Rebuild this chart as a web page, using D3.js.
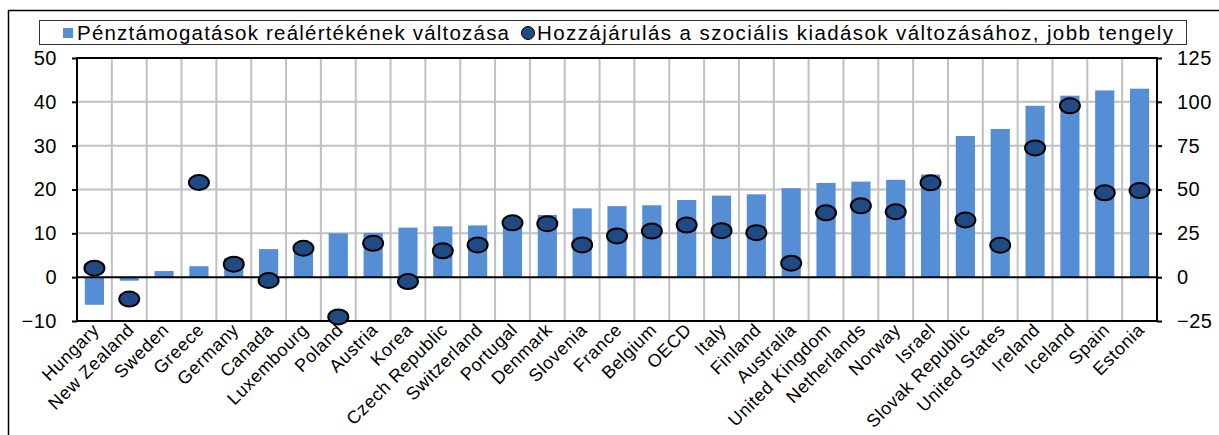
<!DOCTYPE html>
<html>
<head>
<meta charset="utf-8">
<script src="https://cdn.jsdelivr.net/npm/d3@7"></script>
<style>
  body { margin: 0; background: #fff; }
  svg { display: block; font-family: "Liberation Sans", Arial, sans-serif; }
</style>
</head>
<body>
<div id="chart"></div>
<script>
const categories = ["Hungary", "New Zealand", "Sweden", "Greece", "Germany", "Canada", "Luxembourg",
  "Poland", "Austria", "Korea", "Czech Republic", "Switzerland", "Portugal", "Denmark", "Slovenia",
  "France", "Belgium", "OECD", "Italy", "Finland", "Australia", "United Kingdom", "Netherlands",
  "Norway", "Israel", "Slovak Republic", "United States", "Ireland", "Iceland", "Spain", "Estonia"];

// left axis: change in real value of cash benefits
const bar_values = [-6.3, -0.8, 1.4, 2.5, 4.3, 6.4, 7.0, 10.0, 10.1, 11.3, 11.6, 11.8, 12.6, 14.2,
  15.7, 16.2, 16.4, 17.6, 18.6, 18.9, 20.3, 21.5, 21.8, 22.2, 23.4, 32.2, 33.8, 39.1, 41.4, 42.6, 43.0];

// right axis: contribution to change in social spending
const dot_values = [5.1, -12.5, null, 54.0, 7.4, -1.9, 16.5, -22.7, 19.3, -2.5, 15.0, 18.4, 31.0, 30.5,
  18.4, 23.5, 26.3, 29.7, 26.5, 25.4, 8.0, 36.7, 40.7, 37.3, 53.8, 32.6, 18.2, 73.7, 97.7, 48.1, 49.4];

const left_ticks = [-10, 0, 10, 20, 30, 40, 50];
const right_ticks = [-25, 0, 25, 50, 75, 100, 125];

const legend_labels = ["Pénztámogatások reálértékének változása",
  "Hozzájárulás a szociális kiadások változásához, jobb tengely"];

const width = 1219, height = 435;
const plot = { left: 77, right: 1157, top: 58, bottom: 321 };
const bar_color = "#558ed5";
const dot_color = "#1f4a84";

const svg = d3.select("#chart").append("svg")
  .attr("width", width)
  .attr("height", height);

// outer frame (only top and left edges are in view)
svg.append("path")
  .attr("d", `M8.5,${height} V10.5 H${width}`)
  .attr("fill", "none")
  .attr("stroke", "#000")
  .attr("stroke-width", 1.5);

const x = d3.scaleBand()
  .domain(categories)
  .range([plot.left, plot.right])
  .paddingInner(0.45)
  .paddingOuter(0.225);

const step = x.step();

const yLeft = d3.scaleLinear().domain([-10, 50]).range([plot.bottom, plot.top]);
const yRight = d3.scaleLinear().domain([-25, 125]).range([plot.bottom, plot.top]);

// gridlines
const grid = svg.append("g").attr("stroke", "#c0c0c0").attr("stroke-width", 2);
for (let i = 1; i < categories.length; i++) {
  let gx = plot.left + i * step;
  grid.append("line")
    .attr("x1", gx).attr("x2", gx)
    .attr("y1", plot.top).attr("y2", plot.bottom);
}
left_ticks.filter(t => t != 0 && t != 50 && t != -10).forEach(t => {
  grid.append("line")
    .attr("x1", plot.left).attr("x2", plot.right)
    .attr("y1", yLeft(t)).attr("y2", yLeft(t));
});

// bars
svg.append("g").selectAll("rect")
  .data(bar_values)
  .join("rect")
  .attr("x", (d, i) => x(categories[i]))
  .attr("width", x.bandwidth())
  .attr("y", d => yLeft(Math.max(0, d)))
  .attr("height", d => Math.abs(yLeft(d) - yLeft(0)))
  .attr("fill", bar_color);

// zero line
svg.append("line")
  .attr("x1", plot.left).attr("x2", plot.right)
  .attr("y1", yLeft(0)).attr("y2", yLeft(0))
  .attr("stroke", "#000").attr("stroke-width", 2);

// plot border
svg.append("rect")
  .attr("x", plot.left).attr("y", plot.top)
  .attr("width", plot.right - plot.left)
  .attr("height", plot.bottom - plot.top)
  .attr("fill", "none")
  .attr("stroke", "#000")
  .attr("stroke-width", 2);

// dots
svg.append("g").selectAll("ellipse")
  .data(dot_values.map((d, i) => ({ v: d, c: categories[i] })).filter(d => d.v !== null))
  .join("ellipse")
  .attr("cx", d => x(d.c) + x.bandwidth() / 2)
  .attr("cy", d => yRight(d.v))
  .attr("rx", 10)
  .attr("ry", 7.5)
  .attr("fill", dot_color)
  .attr("stroke", "#000")
  .attr("stroke-width", 2);

// axes
const leftAxis = d3.axisLeft(yLeft).tickValues(left_ticks).tickSize(5).tickPadding(15);
const rightAxis = d3.axisRight(yRight).tickValues(right_ticks).tickSize(5).tickPadding(15);

const gl = svg.append("g").attr("transform", `translate(${plot.left},0)`).call(leftAxis);
const gr = svg.append("g").attr("transform", `translate(${plot.right},0)`).call(rightAxis);
[gl, gr].forEach(g => {
  g.select(".domain").remove();
  g.selectAll(".tick line").attr("stroke", "#000").attr("stroke-width", 2);
  g.selectAll(".tick text")
    .attr("font-size", 20)
    .attr("letter-spacing", 0.5)
    .attr("font-family", "Liberation Sans, Arial, sans-serif")
    .attr("fill", "#000");
});

// category labels
svg.append("g").selectAll("text")
  .data(categories)
  .join("text")
  .attr("transform", d => `translate(${x(d) + x.bandwidth() / 2 + 6},${plot.bottom + 10}) rotate(-45)`)
  .attr("text-anchor", "end")
  .attr("font-size", 18)
  .attr("letter-spacing", 0.6)
  .attr("fill", "#000")
  .text(d => d);

// legend
const legend = svg.append("g");
legend.append("rect")
  .attr("x", 39.5).attr("y", 20.5)
  .attr("width", 1147).attr("height", 24)
  .attr("fill", "#fff")
  .attr("stroke", "#333")
  .attr("stroke-width", 1);
legend.append("rect")
  .attr("x", 63).attr("y", 28)
  .attr("width", 10).attr("height", 10)
  .attr("fill", bar_color);
legend.append("text")
  .attr("x", 77).attr("y", 40)
  .attr("font-size", 20.5)
  .attr("textLength", 432)
  .attr("lengthAdjust", "spacing")
  .text(legend_labels[0]);
legend.append("circle")
  .attr("cx", 528).attr("cy", 33)
  .attr("r", 6.5)
  .attr("fill", dot_color)
  .attr("stroke", "#000")
  .attr("stroke-width", 1);
legend.append("text")
  .attr("x", 537).attr("y", 40)
  .attr("font-size", 20.5)
  .attr("textLength", 636)
  .attr("lengthAdjust", "spacing")
  .text(legend_labels[1]);
</script>
</body>
</html>
